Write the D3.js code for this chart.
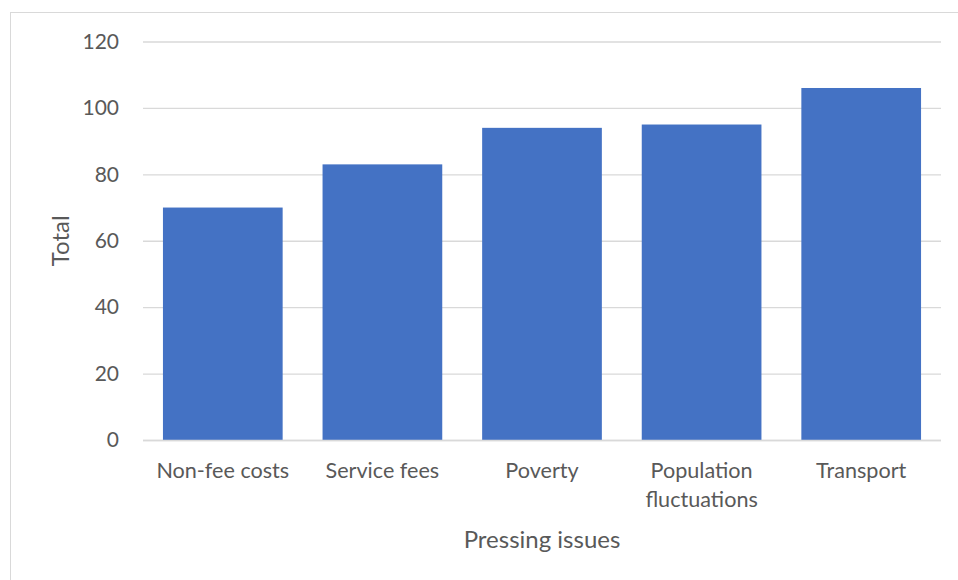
<!DOCTYPE html>
<html><head><meta charset="utf-8">
<script src="https://cdn.jsdelivr.net/npm/d3@7"></script>
<style>body{margin:0;background:#fff}</style>
</head><body>
<svg id="c" width="958" height="580"></svg>
<script>
const categories = ["Non-fee costs", "Service fees", "Poverty", "Population fluctuations", "Transport"];
const values = [70, 83, 94, 95, 106];
const yTicks = [0, 20, 40, 60, 80, 100, 120];
const yTitle = "Total";
const xTitle = "Pressing issues";

const svg = d3.select("#c");
const font = "Lato, Open Sans, sans-serif";
const textColor = "#595959";

svg.append("rect").attr("x", 10.5).attr("y", 12.5).attr("width", 1000).attr("height", 1000)
  .attr("fill", "#fff").attr("stroke", "#d9d9d9");

const m = {left: 143, right: 941, top: 41.5, bottom: 440};
const x = d3.scaleBand().domain(categories).range([m.left, m.right]).paddingInner(0.25).paddingOuter(0.125);
const y = d3.scaleLinear().domain([0, 120]).range([m.bottom, m.top]);

const yAxis = svg.append("g").attr("transform", `translate(${m.left},0)`)
  .call(d3.axisLeft(y).tickValues(yTicks).tickSize(-(m.right - m.left)).tickPadding(24));
yAxis.select(".domain").remove();
yAxis.selectAll("line").attr("stroke", "#d9d9d9").attr("stroke-width", 1.3);
yAxis.selectAll("text").attr("fill", textColor).style("font-family", font).style("font-size", "21px");

svg.append("g").selectAll("rect").data(categories).join("rect")
  .attr("x", d => x(d)).attr("width", x.bandwidth())
  .attr("y", (d, i) => y(values[i])).attr("height", (d, i) => y(0) - y(values[i]))
  .attr("fill", "#4472c4");

svg.append("line").attr("x1", m.left).attr("x2", m.right).attr("y1", y(0) + 0.5).attr("y2", y(0) + 0.5)
  .attr("stroke", "#d9d9d9").attr("stroke-width", 1.3);

const xl = svg.append("g").selectAll("text").data(categories).join("text")
  .attr("x", d => x(d) + x.bandwidth() / 2).attr("y", 478)
  .attr("text-anchor", "middle").attr("fill", textColor)
  .style("font-family", font).style("font-size", "21.6px");
xl.each(function(d) {
  const t = d3.select(this);
  const words = d === "Population fluctuations" ? ["Population", "fluctuations"] : [d];
  words.forEach((w, i) => t.append("tspan").attr("x", x(d) + x.bandwidth() / 2).attr("dy", i ? 29 : 0).text(w));
});

svg.append("text").attr("x", (m.left + m.right) / 2).attr("y", 548).attr("text-anchor", "middle")
  .attr("fill", textColor).style("font-family", font).style("font-size", "24px").text(xTitle);
svg.append("text").attr("transform", `translate(69,${(m.top + m.bottom) / 2}) rotate(-90)`)
  .attr("text-anchor", "middle").attr("fill", textColor)
  .style("font-family", font).style("font-size", "24px").text(yTitle);
</script>
</body></html>
